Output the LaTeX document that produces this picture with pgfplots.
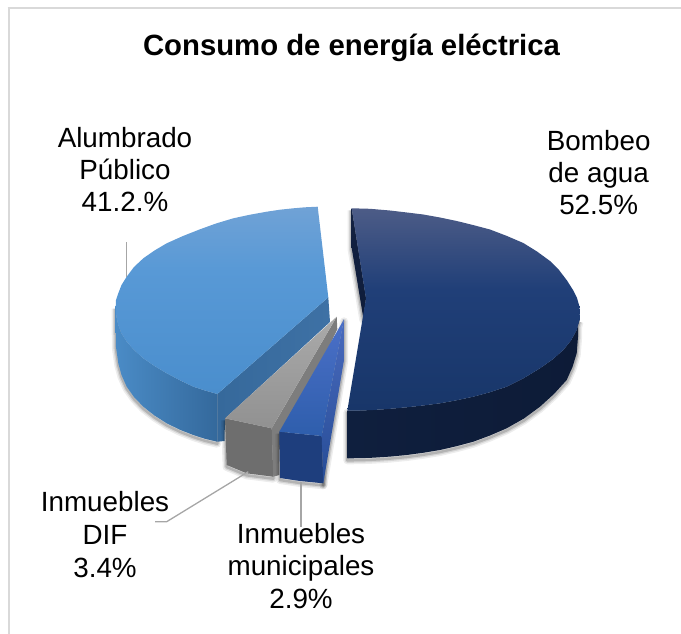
\documentclass[border=0pt]{standalone}
\usepackage{pgfplots}
\pgfplotsset{compat=1.18}
\usepackage{pgfplotstable}
\usepackage{fontspec}
\setmainfont{Liberation Sans}
\pgfplotstableread{
x y
328.3 297.3
317.7 206.7
305 207.3
293.3 208.3
280 209.7
266.7 211.7
250 214.7
233.3 218.3
216 223.5
200 229.3
183 236
166.7 243.3
154.5 250.5
143.3 258.3
134 267
126.7 276.7
121.5 285
118.3 293.3
116 300
115.7 306.7
116.3 316
118.3 325
121.5 333.5
126.7 341.7
134 350
143.3 358.3
154.5 366
166.7 373.3
180 380.3
193.3 386.7
205 390.5
217.3 394
328.3 297.3
}\alumTop
\pgfplotstableread{
x y
115.7 306.7
116.3 316
118.3 325
121.5 333.5
126.7 341.7
134 350
143.3 358.3
154.5 366
166.7 373.3
180 380.3
193.3 386.7
205 390.5
217.3 394
217.3 441.7
205 438.8
193.3 435
180 429.8
166.7 423.3
154.5 415.5
143.3 406.7
134 397
126.7 386.7
121.5 375
118.3 363.3
116 347
115.7 330
115.7 306.7
}\alumWall
\pgfplotstableread{
x y
217.3 394
328.3 297.3
330 322
225 418.5
224.5 441
217.3 441.7
217.3 394
}\alumInner
\pgfplotstableread{
x y
366 298.3
351.7 208.3
370 208.8
390 210.5
407 212.5
423.3 214.5
440 217.5
456.7 221
473 225
490 229.5
507 236
523.3 243
537 251.5
550 261
559 270
567 280.5
573 290
577 298
579.3 306
579.8 313
579.5 320
576.7 330
571 340.5
563.3 350
552.5 359.5
540 368.3
524 378
506.7 386.7
490 392.2
473.3 396.7
456.5 400.3
440 403.3
423 405.5
406.7 407.3
390 408.8
373.3 410
360 410.5
347.3 410.7
366 298.3
}\darkTop
\pgfplotstableread{
x y
579.5 320
576.7 330
571 340.5
563.3 350
552.5 359.5
540 368.3
524 378
506.7 386.7
490 392.2
473.3 396.7
456.5 400.3
440 403.3
423 405.5
406.7 407.3
390 408.8
373.3 410
360 410.5
347.3 410.7
347.3 458.3
360 458.2
373 457.7
390 456.6
406.7 455
423 452.8
440 450
456.5 446.2
473.3 441.7
490 435.5
506.7 428.3
524 418.5
540 406.7
554 394
566.7 380
572.5 367
576.7 353.3
578 337
578.3 320
579.5 320
}\darkWall
\pgfplotstableread{
x y
351.7 208.3
351.7 248
363.3 318
366 298.3
351.7 208.3
}\darkInner
\pgfplotstableread{
x y
225 418.3
271.7 428.3
336.7 316.7
225 418.3
}\grayTop
\pgfplotstableread{
x y
225 418.3
271.7 428.3
273.3 476.7
246.7 473.3
226.7 465
225 418.3
}\grayFront
\pgfplotstableread{
x y
271.7 428.3
336.7 316.7
337.3 329.3
279.3 450
279.3 475
273.3 476.7
271.7 428.3
}\grayInner
\pgfplotstableread{
x y
279.3 431.7
321.7 436
344 319.3
279.3 431.7
}\blueTop
\pgfplotstableread{
x y
279.3 431.7
321.7 436
323.3 483.3
300 481
280 478
279.3 431.7
}\blueFront
\pgfplotstableread{
x y
321.7 436
344 319.3
344 360
323.3 483.3
321.7 436
}\blueSide
\definecolor{frameC}{HTML}{D9D9D9}
\definecolor{leadC}{HTML}{A6A6A6}
\definecolor{dA}{RGB}{77,92,135}
\definecolor{dB}{RGB}{32,63,120}
\definecolor{dC}{RGB}{24,54,105}
\definecolor{aA}{RGB}{112,162,214}
\definecolor{aB}{RGB}{88,153,214}
\definecolor{aC}{RGB}{74,142,205}
\pgfdeclareverticalshading{darkS}{100bp}{color(0bp)=(dC);color(25bp)=(dC);color(55bp)=(dB);color(75bp)=(dA);color(100bp)=(dA)}
\pgfdeclareverticalshading{alumS}{100bp}{color(0bp)=(aC);color(25bp)=(aC);color(58bp)=(aB);color(75bp)=(aA);color(100bp)=(aA)}
\newcommand\softshadow[1]{%
  \addplot[draw=black,draw opacity=.07,line width=8pt,line join=round,yshift=-2pt,forget plot] table {#1};
  \addplot[draw=black,draw opacity=.10,line width=5pt,line join=round,yshift=-2pt,forget plot] table {#1};
  \addplot[draw=black,draw opacity=.16,line width=2.5pt,line join=round,yshift=-2pt,forget plot] table {#1};
}
\begin{document}
\begin{tikzpicture}
\useasboundingbox (0,0) rectangle (681pt,634pt);
\begin{axis}[
  at={(0,0)},anchor=south west,
  scale only axis,width=681pt,height=634pt,
  xmin=0,xmax=681,ymin=0,ymax=634,y dir=reverse,
  hide axis,clip=false,no markers,
]
% frame
\addplot[frameC,line width=2.8pt] coordinates {(9,634) (9,8.3)};
\addplot[frameC,line width=1.6pt] coordinates {(7.6,8.3) (681,8.3)};
% shadows
\softshadow{\alumWall}
\softshadow{\darkWall}
\softshadow{\darkInner}
% Alumbrado
\addplot[draw=none,left color={rgb,255:red,74;green,139;blue,198},right color={rgb,255:red,52;green,105;blue,156}] table {\alumWall};
\addplot[draw=none,left color={rgb,255:red,54;green,105;blue,155},right color={rgb,255:red,62;green,113;blue,165}] table {\alumInner};
\addplot[draw=none,shade,shading=alumS] table {\alumTop};
% Bombeo
\addplot[draw=none,left color={rgb,255:red,15;green,31;blue,62},right color={rgb,255:red,13;green,27;blue,55}] table {\darkWall};
\addplot[draw=none,top color={rgb,255:red,20;green,34;blue,66},bottom color={rgb,255:red,14;green,28;blue,58}] table {\darkInner};
\addplot[draw=none,shade,shading=darkS] table {\darkTop};
% Inmuebles DIF
\softshadow{\grayFront}
\addplot[draw=none,fill={rgb,255:red,110;green,110;blue,110}] table {\grayFront};
\addplot[draw=none,fill={rgb,255:red,125;green,125;blue,125}] table {\grayInner};
\addplot[draw=none,top color={rgb,255:red,170;green,170;blue,170},bottom color={rgb,255:red,145;green,145;blue,145}] table {\grayTop};
% Inmuebles municipales
\softshadow{\blueFront}
\softshadow{\blueSide}
\addplot[draw=none,fill={rgb,255:red,30;green,62;blue,125}] table {\blueFront};
\addplot[draw=none,top color={rgb,255:red,74;green,107;blue,190},bottom color={rgb,255:red,38;green,76;blue,150}] table {\blueSide};
\addplot[draw=none,top color={rgb,255:red,76;green,112;blue,200},bottom color={rgb,255:red,46;green,94;blue,172}] table {\blueTop};
% leaders
\addplot[leadC,line width=1.3pt] coordinates {(126.7,242.3) (126.7,277)};
\addplot[leadC,line width=1.3pt] coordinates {(155,521.7) (166.7,521.7) (248.3,471.7)};
\addplot[leadC,line width=1.3pt] coordinates {(301,481.7) (301,526.7)};
% texts
\node[font=\bfseries\fontsize{29.3}{34}\selectfont,inner sep=0pt,anchor=base] at (axis cs:351.5,56) {Consumo de energía eléctrica};
\node[font=\fontsize{27.8}{32}\selectfont,align=center,inner sep=0pt] at (axis cs:125,169.5) {Alumbrado\\Público\\41.2.\%};
\node[font=\fontsize{27.8}{32}\selectfont,align=center,inner sep=0pt] at (axis cs:598.7,173) {Bombeo\\de agua\\52.5\%};
\node[font=\fontsize{27.8}{32.7}\selectfont,align=center,inner sep=0pt] at (axis cs:105,534.5) {Inmuebles\\DIF\\3.4\%};
\node[font=\fontsize{27.8}{32.7}\selectfont,align=center,inner sep=0pt] at (axis cs:301,566) {Inmuebles\\municipales\\2.9\%};
\end{axis}
\end{tikzpicture}
\end{document}
